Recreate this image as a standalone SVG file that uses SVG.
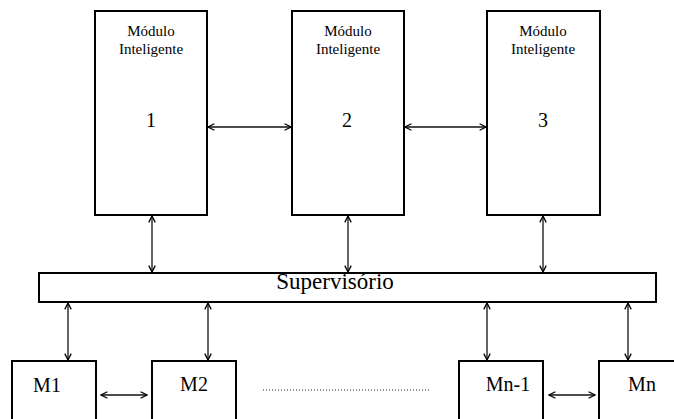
<svg xmlns="http://www.w3.org/2000/svg" width="674" height="419" viewBox="0 0 674 419">
  <style>
    .box { fill: #fff; stroke: #000; stroke-width: 2; }
    .link { fill: none; stroke: #111; stroke-width: 1.3; marker-start: url(#head); marker-end: url(#head); }
    .dots { fill: none; stroke: #222; stroke-width: 1; stroke-dasharray: 1 2; }
    text { font-family: "Liberation Serif", "Times New Roman", serif; fill: #000; text-anchor: middle; }
    .small { font-size: 15px; }
    .big { font-size: 20px; }
    .sup { font-size: 23px; }
  </style>
  <defs>
    <marker id="head" viewBox="0 0 10 10" refX="9" refY="5" markerWidth="8" markerHeight="8" markerUnits="userSpaceOnUse" orient="auto-start-reverse">
      <path d="M1,1 L9,5 L1,9" fill="none" stroke="#000" stroke-width="1.6"/>
    </marker>
  </defs>

  <g id="modulo1">
    <rect class="box" x="95" y="11" width="112" height="204"/>
    <text class="small" x="151" y="36">Módulo</text>
    <text class="small" x="151" y="54">Inteligente</text>
    <text class="big" x="151" y="127">1</text>
  </g>
  <g id="modulo2">
    <rect class="box" x="292" y="11" width="112" height="204"/>
    <text class="small" x="348" y="36">Módulo</text>
    <text class="small" x="348" y="54">Inteligente</text>
    <text class="big" x="347" y="127">2</text>
  </g>
  <g id="modulo3">
    <rect class="box" x="487" y="11" width="113" height="204"/>
    <text class="small" x="543" y="36">Módulo</text>
    <text class="small" x="543" y="54">Inteligente</text>
    <text class="big" x="543" y="127">3</text>
  </g>

  <g id="supervisorio">
    <rect class="box" x="39" y="273" width="617" height="29"/>
    <text class="sup" x="335" y="289">Supervisório</text>
  </g>

  <g id="m1">
    <rect class="box" x="12" y="361" width="84" height="70"/>
    <text class="big" x="47" y="392">M1</text>
  </g>
  <g id="m2">
    <rect class="box" x="152" y="361" width="84" height="70"/>
    <text class="big" x="194" y="391">M2</text>
  </g>
  <g id="mn-1">
    <rect class="box" x="459" y="361" width="84" height="70"/>
    <text class="big" x="508" y="391">Mn-1</text>
  </g>
  <g id="mn">
    <rect class="box" x="599" y="361" width="84" height="70"/>
    <text class="big" x="642" y="391">Mn</text>
  </g>

  <g id="connectors">
    <line class="link" x1="208" y1="127" x2="291" y2="127"/>
    <line class="link" x1="405" y1="127" x2="486" y2="127"/>
    <line class="link" x1="152" y1="216" x2="152" y2="272"/>
    <line class="link" x1="348" y1="216" x2="348" y2="272"/>
    <line class="link" x1="543" y1="216" x2="543" y2="272"/>
    <line class="link" x1="68" y1="303" x2="68" y2="360"/>
    <line class="link" x1="208" y1="303" x2="208" y2="360"/>
    <line class="link" x1="487" y1="303" x2="487" y2="360"/>
    <line class="link" x1="628" y1="303" x2="628" y2="360"/>
    <line class="link" x1="101" y1="395" x2="147" y2="395"/>
    <line class="link" x1="549" y1="395" x2="595" y2="395"/>
    <line class="dots" x1="263" y1="390" x2="429" y2="390"/>
  </g>
</svg>
